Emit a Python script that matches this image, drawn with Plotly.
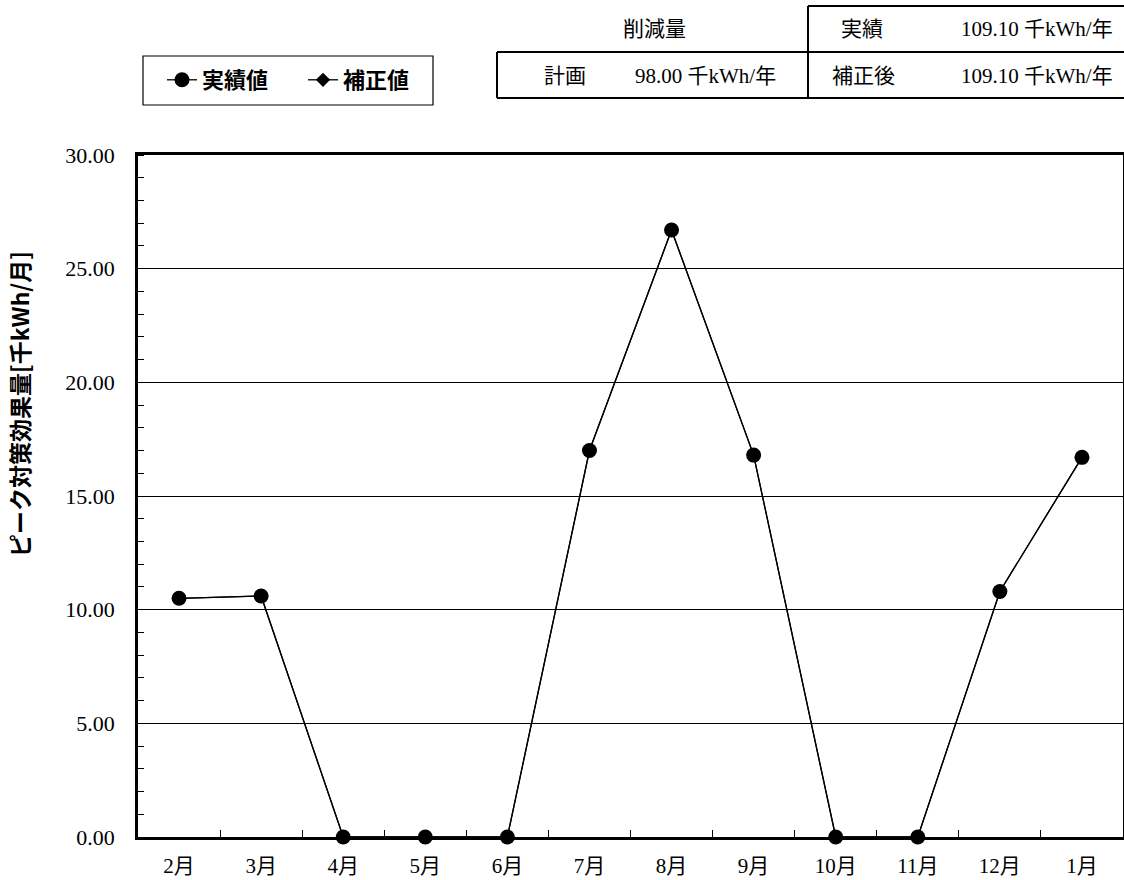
import plotly.graph_objects as go

months = ["2月", "3月", "4月", "5月", "6月", "7月", "8月", "9月", "10月", "11月", "12月", "1月"]
actual = [10.5, 10.6, 0.0, 0.0, 0.0, 17.0, 26.7, 16.8, 0.0, 0.0, 10.8, 16.7]
corrected = [10.5, 10.6, 0.0, 0.0, 0.0, 17.0, 26.7, 16.8, 0.0, 0.0, 10.8, 16.7]
y_ticks = [0, 5, 10, 15, 20, 25, 30]
plan_total = 98.00
actual_total = 109.10
corrected_total = 109.10

W, H = 1124, 880
L, R, T, B = 138, 1123, 155, 837


def px(x):
    return (x - L) / (R - L)


def py(y):
    return (B - y) / (B - T)


fig = go.Figure()
fig.add_trace(go.Scatter(
    x=months, y=corrected, name="補正値", mode="lines+markers", cliponaxis=False,
    line=dict(color="black", width=1.3),
    marker=dict(symbol="diamond", size=11, color="black"),
))
fig.add_trace(go.Scatter(
    x=months, y=actual, name="実績値", mode="lines+markers", cliponaxis=False,
    line=dict(color="black", width=1.3),
    marker=dict(symbol="circle", size=15, color="black"),
))

serif = "Liberation Serif, Noto Sans CJK JP, serif"
sans = "Noto Sans CJK JP, sans-serif"

fig.update_layout(
    width=W, height=H,
    margin=dict(l=L, r=W - R, t=T, b=H - B, autoexpand=False),
    paper_bgcolor="white", plot_bgcolor="white",
    showlegend=True,
    legend=dict(
        orientation="h", x=px(162), y=py(59), xanchor="left", yanchor="top",
        borderwidth=0, bgcolor="rgba(0,0,0,0)",
        font=dict(family=sans, size=22, color="black", weight="bold"),
        traceorder="reversed", itemwidth=30, entrywidth=96,
    ),
    xaxis=dict(
        type="category", range=[-0.5, 11.5], showgrid=False, showline=True, linewidth=2.5,
        linecolor="black", mirror=True, ticks="inside", ticklen=7, tickwidth=1, tickcolor="black",
        tickson="boundaries", ticklabelstandoff=8, layer="below traces",
        tickfont=dict(family=serif, size=21, color="black"), fixedrange=True,
    ),
    yaxis=dict(
        range=[0, 30], tickvals=y_ticks, tickformat=".2f",
        showgrid=True, gridcolor="black", gridwidth=1,
        showline=True, linewidth=2.5, linecolor="black", mirror=True, layer="below traces",
        ticks="", ticklabelstandoff=16,
        tickfont=dict(family=serif, size=22, color="black"),
        minor=dict(dtick=1, ticks="inside", ticklen=6, tickcolor="black", tickwidth=1, showgrid=False),
        zeroline=False, fixedrange=True,
    ),
)

# y-axis title
fig.add_annotation(
    text="ピーク対策効果量[千kWh/月]", textangle=-90,
    xref="paper", yref="paper", x=px(19), y=py(404), xanchor="center", yanchor="middle",
    showarrow=False, font=dict(family=sans, size=23, color="black", weight="bold"),
)

# legend frame
fig.add_shape(type="rect", xref="paper", yref="paper", x0=px(143), x1=px(433),
              y0=py(56), y1=py(105), line=dict(color="black", width=1.2), fillcolor="white",
              layer="below")

# summary table
line = dict(color="black", width=2)
shapes = [
    dict(type="line", xref="paper", yref="paper", x0=px(808), x1=px(1124), y0=py(6), y1=py(6), line=line),
    dict(type="line", xref="paper", yref="paper", x0=px(497), x1=px(1124), y0=py(52), y1=py(52), line=line),
    dict(type="line", xref="paper", yref="paper", x0=px(497), x1=px(1124), y0=py(98), y1=py(98), line=line),
    dict(type="line", xref="paper", yref="paper", x0=px(497), x1=px(497), y0=py(52), y1=py(98), line=line),
    dict(type="line", xref="paper", yref="paper", x0=px(808), x1=px(808), y0=py(6), y1=py(98), line=line),
]
for s in shapes:
    fig.add_shape(**s)

tfont = dict(family=serif, size=21, color="black")
texts = [
    ("削減量", 654, 29),
    ("計画", 565, 76),
    (f"{plan_total:.2f} 千kWh/年", 705, 76),
    ("実績", 862, 29),
    (f"{actual_total:.2f} 千kWh/年", 1037, 29),
    ("補正後", 863, 76),
    (f"{corrected_total:.2f} 千kWh/年", 1037, 76),
]
for t, x, y in texts:
    fig.add_annotation(text=t, xref="paper", yref="paper", x=px(x), y=py(y),
                       xanchor="center", yanchor="middle", showarrow=False, font=tfont)

fig.write_html("out.html")
